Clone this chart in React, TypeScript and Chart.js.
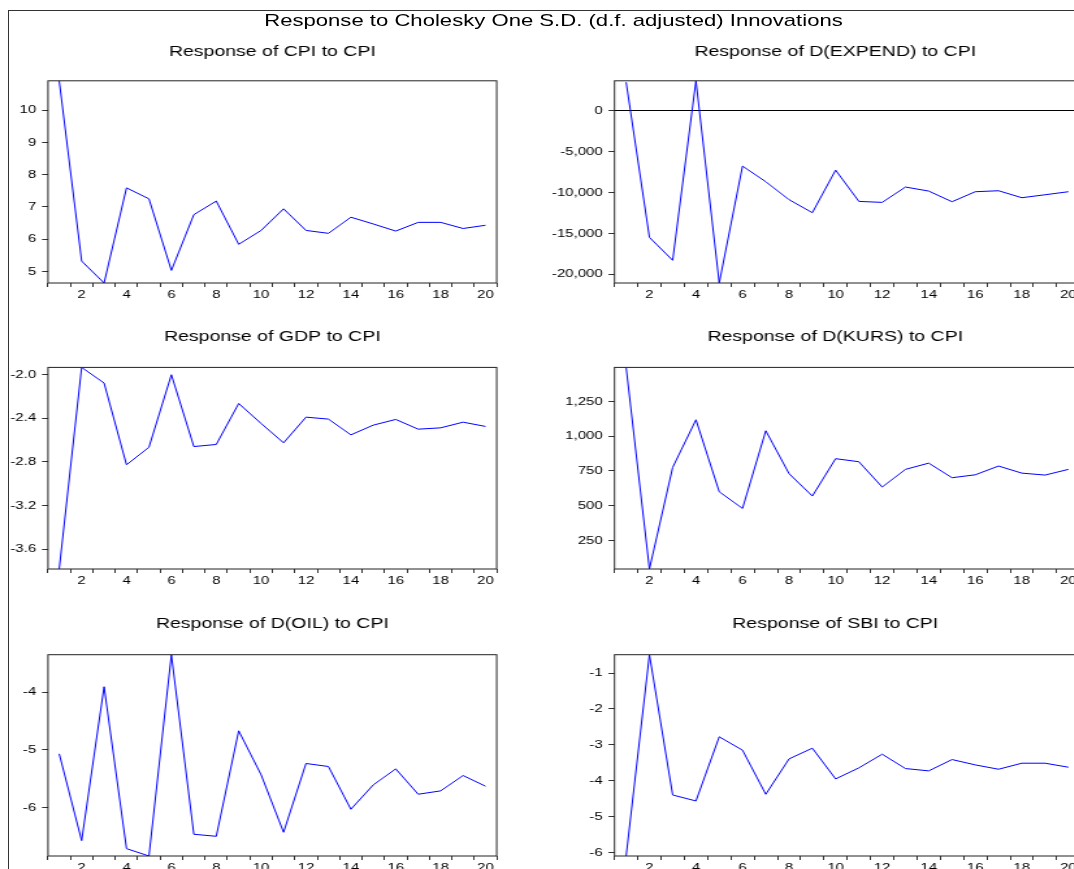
import React, { useEffect, useRef } from 'react';
import { Chart, registerables } from 'chart.js';

Chart.register(...registerables);

// ---------- data ----------
const PERIODS = ['1', '2', '3', '4', '5', '6', '7', '8', '9', '10', '11', '12', '13', '14', '15', '16', '17', '18', '19', '20'];

const CPI_VALUES = [10.91, 5.32, 4.64, 7.59, 7.25, 5.03, 6.76, 7.18, 5.84, 6.27, 6.94, 6.27, 6.18, 6.68, 6.47, 6.25, 6.52, 6.52, 6.33, 6.43];
const EXPEND_VALUES = [3450, -15490, -18290, 3620, -21060, -6790, -8700, -10890, -12480, -7280, -11100, -11220, -9350, -9840, -11140, -9920, -9800, -10650, -10290, -9920];
const GDP_VALUES = [-3.78, -1.936, -2.079, -2.827, -2.666, -2.003, -2.66, -2.641, -2.266, -2.449, -2.626, -2.391, -2.409, -2.553, -2.464, -2.412, -2.501, -2.489, -2.437, -2.476];
const KURS_VALUES = [1495, 44, 775, 1118, 600, 480, 1039, 730, 569, 838, 816, 634, 761, 806, 701, 722, 785, 734, 720, 761];
const OIL_VALUES = [-5.066, -6.565, -3.908, -6.703, -6.83, -3.355, -6.455, -6.49, -4.669, -5.429, -6.421, -5.233, -5.285, -6.023, -5.602, -5.326, -5.764, -5.706, -5.441, -5.625];
const SBI_VALUES = [-6.1, -0.49, -4.4, -4.566, -2.778, -3.151, -4.38, -3.393, -3.095, -3.952, -3.644, -3.263, -3.663, -3.728, -3.412, -3.561, -3.682, -3.514, -3.514, -3.626];

const CPI_TICKS = [5, 6, 7, 8, 9, 10];
const EXPEND_TICKS = [-20000, -15000, -10000, -5000, 0];
const GDP_TICKS = [-3.6, -3.2, -2.8, -2.4, -2.0];
const KURS_TICKS = [250, 500, 750, 1000, 1250];
const OIL_TICKS = [-6, -5, -4];
const SBI_TICKS = [-6, -5, -4, -3, -2, -1];

const MAIN_TITLE = 'Response to Cholesky One S.D. (d.f. adjusted) Innovations';
const TITLE_CPI = 'Response of CPI to CPI';
const TITLE_EXPEND = 'Response of D(EXPEND) to CPI';
const TITLE_GDP = 'Response of GDP to CPI';
const TITLE_KURS = 'Response of D(KURS) to CPI';
const TITLE_OIL = 'Response of D(OIL) to CPI';
const TITLE_SBI = 'Response of SBI to CPI';

// ---------- layout (reference pixels; horizontally stretched by S) ----------
const S = 1.3;
const FONT = '"Liberation Sans", Arial, Helvetica, sans-serif';
const COLS = [
  { canvasLeft: 0, canvasRight: 545, plotLeft: 48, plotRight: 497 },
  { canvasLeft: 540, canvasRight: 1132, plotLeft: 615, plotRight: 1081 },
];
const ROWS = [
  { titleY: 51.5, plotTop: 80.3, plotBottom: 282.7 },
  { titleY: 337.3, plotTop: 367.7, plotBottom: 569.3 },
  { titleY: 624.3, plotTop: 655, plotBottom: 856 },
];
const TITLE_SIZE = 15;
const TITLE_LH = TITLE_SIZE * 1.2;
const X_AXIS_H = 30;

const fmtInt = (v: number) => Math.round(v).toLocaleString('en-US');
const fmt1 = (v: number) => v.toFixed(1);
const fmtPlain = (v: number) => String(v);

const framePlugin = {
  id: 'plotFrame',
  afterDraw(chart: any) {
    const { ctx, chartArea } = chart;
    ctx.save();
    ctx.strokeStyle = '#222';
    ctx.lineWidth = 1;
    ctx.strokeRect(chartArea.left, chartArea.top, chartArea.right - chartArea.left, chartArea.bottom - chartArea.top);
    ctx.restore();
  },
};

type PanelProps = {
  title: string;
  values: number[];
  ticks: number[];
  fmt: (v: number) => string;
  col: number;
  row: number;
};

function Panel({ title, values, ticks, fmt, col, row }: PanelProps) {
  const ref = useRef<HTMLCanvasElement | null>(null);
  const c = COLS[col];
  const r = ROWS[row];
  const top = r.titleY - TITLE_LH / 2;
  const height = Math.round(r.plotBottom + X_AXIS_H - top);
  const width = Math.round((c.canvasRight - c.canvasLeft) / S);
  const yAxisW = (c.plotLeft - c.canvasLeft) / S;
  const padRight = (c.canvasRight - c.plotRight) / S;
  const titlePadBottom = r.plotTop - top - TITLE_LH;

  useEffect(() => {
    if (!ref.current) return;
    const tickFont = { family: FONT, size: 11.5 };
    const chart = new Chart(ref.current, {
      type: 'line',
      data: {
        labels: PERIODS,
        datasets: [
          {
            data: values,
            borderColor: '#0000ff',
            borderWidth: 1,
            pointRadius: 0,
            fill: false,
            tension: 0,
            yAxisID: 'y',
          },
        ],
      },
      options: {
        responsive: false,
        animation: false,
        devicePixelRatio: 1,
        layout: { padding: 0 },
        plugins: {
          legend: { display: false },
          tooltip: { enabled: false },
          title: {
            display: true,
            text: title,
            color: '#000',
            font: { family: FONT, size: TITLE_SIZE, weight: 'normal', lineHeight: 1.2 },
            padding: { top: 0, bottom: titlePadBottom },
          },
        },
        scales: {
          x: {
            type: 'category',
            offset: true,
            grid: { offset: true, drawOnChartArea: false, drawTicks: true, tickLength: 4, color: '#333' },
            border: { display: false },
            ticks: {
              autoSkip: false,
              maxRotation: 0,
              minRotation: 0,
              padding: 1,
              color: '#000',
              font: tickFont,
              callback: (_v: any, i: number) => (i % 2 === 1 ? PERIODS[i] : ''),
            },
            afterFit: (s: any) => {
              s.height = X_AXIS_H;
            },
          },
          y: {
            type: 'linear',
            position: 'left',
            min: Math.min(...values),
            max: Math.max(...values),
            afterBuildTicks: (s: any) => {
              s.ticks = ticks.map((v) => ({ value: v }));
            },
            grid: {
              drawOnChartArea: true,
              drawTicks: true,
              tickLength: 4.6,
              tickColor: '#333',
              color: (ctx: any) => (ctx.tick && ctx.tick.value === 0 ? '#000' : 'rgba(0,0,0,0)'),
            },
            border: { display: false },
            ticks: {
              padding: 4.5,
              color: '#000',
              font: tickFont,
              callback: (v: any) => fmt(Number(v)),
            },
            afterFit: (s: any) => {
              s.width = yAxisW;
            },
          },
          ySpacer: {
            type: 'linear',
            position: 'right',
            display: true,
            grid: { display: false, drawTicks: false },
            border: { display: false },
            ticks: { display: false },
            afterFit: (s: any) => {
              s.width = padRight;
            },
          },
        },
      },
      plugins: [framePlugin],
    } as any);
    return () => chart.destroy();
  }, []);

  return (
    <canvas
      ref={ref}
      width={width}
      height={height}
      style={{
        position: 'absolute',
        left: c.canvasLeft / S,
        top: top,
        width: width,
        height: height,
      }}
    />
  );
}

export default function App() {
  return (
    <div
      style={{
        position: 'absolute',
        left: 0,
        top: 0,
        width: 1074,
        height: 869,
        overflow: 'hidden',
        background: '#fff',
      }}
    >
      <div
        style={{
          position: 'absolute',
          left: 8,
          top: 10,
          width: 1200,
          height: 1000,
          borderTop: '1px solid #333',
          borderLeft: '1px solid #333',
        }}
      />
      <div
        style={{
          position: 'absolute',
          left: 0,
          top: 0,
          width: 1132 / S,
          height: 869,
          transform: `scaleX(${S})`,
          transformOrigin: '0 0',
        }}
      >
        <div
          style={{
            position: 'absolute',
            left: 0,
            top: 10.5,
            width: (553.5 * 2) / S,
            textAlign: 'center',
            fontFamily: FONT,
            fontSize: 17,
            lineHeight: '20px',
            color: '#000',
            whiteSpace: 'nowrap',
          }}
        >
          {MAIN_TITLE}
        </div>
        <Panel title={TITLE_CPI} values={CPI_VALUES} ticks={CPI_TICKS} fmt={fmtPlain} col={0} row={0} />
        <Panel title={TITLE_EXPEND} values={EXPEND_VALUES} ticks={EXPEND_TICKS} fmt={fmtInt} col={1} row={0} />
        <Panel title={TITLE_GDP} values={GDP_VALUES} ticks={GDP_TICKS} fmt={fmt1} col={0} row={1} />
        <Panel title={TITLE_KURS} values={KURS_VALUES} ticks={KURS_TICKS} fmt={fmtInt} col={1} row={1} />
        <Panel title={TITLE_OIL} values={OIL_VALUES} ticks={OIL_TICKS} fmt={fmtPlain} col={0} row={2} />
        <Panel title={TITLE_SBI} values={SBI_VALUES} ticks={SBI_TICKS} fmt={fmtPlain} col={1} row={2} />
      </div>
    </div>
  );
}
